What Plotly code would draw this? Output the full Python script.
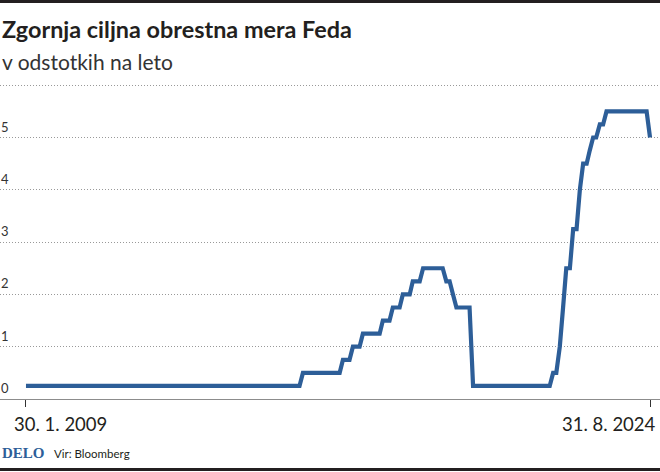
import plotly.graph_objects as go

# month-end values of the Fed upper target rate (points where the line bends)
dates = [
    "2009-01-30", "2015-11-30", "2015-12-31", "2016-11-30", "2016-12-30",
    "2017-02-28", "2017-03-31", "2017-05-31", "2017-06-30", "2017-11-30",
    "2017-12-29", "2018-02-28", "2018-03-30", "2018-05-31", "2018-06-29",
    "2018-08-31", "2018-09-28", "2018-11-30", "2018-12-31", "2019-06-28",
    "2019-07-31", "2019-08-30", "2019-09-30", "2019-10-31", "2020-02-28",
    "2020-03-31", "2022-02-28", "2022-03-31", "2022-04-29", "2022-05-31",
    "2022-06-30", "2022-07-29", "2022-08-31", "2022-09-30", "2022-10-31",
    "2022-11-30", "2022-12-30", "2023-01-31", "2023-02-28", "2023-03-31",
    "2023-04-28", "2023-05-31", "2023-06-30", "2023-07-31", "2024-07-31",
    "2024-08-31",
]
rate = [
    0.25, 0.25, 0.50, 0.50, 0.75,
    0.75, 1.00, 1.00, 1.25, 1.25,
    1.50, 1.50, 1.75, 1.75, 2.00,
    2.00, 2.25, 2.25, 2.50, 2.50,
    2.25, 2.25, 2.00, 1.75, 1.75,
    0.25, 0.25, 0.50, 0.50, 1.00,
    1.75, 2.50, 2.50, 3.25, 3.25,
    4.00, 4.50, 4.50, 4.75, 5.00,
    5.00, 5.25, 5.25, 5.50, 5.50,
    5.00,
]

y_ticks = [0, 1, 2, 3, 4, 5, 6]
y_labels = ["0", "1", "2", "3", "4", "5", ""]
x_ticks = ["2009-01-30", "2024-08-31"]
x_labels = ["30. 1. 2009", "31. 8. 2024"]

BLUE = "#2d5e98"
DARK = "#231f20"
FONT = "Lato"

fig = go.Figure()
fig.add_trace(go.Scatter(
    x=dates, y=rate, mode="lines",
    line=dict(color=BLUE, width=4.2),
    hoverinfo="skip",
))

# pixel helpers: plot area runs from y=80 to y=399 of the 472px page
def py(pix):
    return (399 - pix) / 319

fig.update_layout(
    width=660, height=472,
    margin=dict(l=0, r=0, t=80, b=73),
    paper_bgcolor="white", plot_bgcolor="white",
    showlegend=False,
    font=dict(family=FONT, color=DARK),
    xaxis=dict(
        type="date", range=["2008-06-07", "2024-11-30"],
        tickvals=x_ticks, showticklabels=False,
        ticks="outside", ticklen=7, tickcolor="#333333", tickwidth=1,
        showgrid=False, zeroline=False,
        showline=True, linecolor="#8c8c8c", linewidth=1,
    ),
    yaxis=dict(
        range=[0, 6.1], tickvals=y_ticks, showticklabels=False,
        showgrid=True, gridcolor="#999999", gridwidth=1, griddash="1px,2px",
        zeroline=False, showline=False, ticks="",
    ),
)

# y tick labels sit just above their gridlines, flush left
for v, lab in zip(y_ticks, y_labels):
    if lab:
        fig.add_annotation(xref="paper", yref="y", x=-0.002, y=v, text=lab,
                           xanchor="left", yanchor="middle", yshift=11,
                           showarrow=False,
                           font=dict(size=13, color="#333333", family=FONT))

ann = [
    dict(text="<b>Zgornja ciljna obrestna mera Feda</b>", x=0.0, y=py(29),
         font=dict(size=23.4, color=DARK, family=FONT)),
    dict(text="v odstotkih na leto", x=0.0, y=py(62),
         font=dict(size=21, color="#333333", family=FONT)),
    dict(text=x_labels[0], x=12 / 660, y=py(424),
         font=dict(size=18.5, color=DARK, family=FONT)),
    dict(text=x_labels[1], x=658 / 660, y=py(424), xanchor="right",
         font=dict(size=18.5, color=DARK, family=FONT)),
    dict(text="<b>DELO</b>", x=0.0, y=py(453),
         font=dict(size=15, color=BLUE, family="Liberation Serif")),
    dict(text="Vir: Bloomberg", x=52 / 660, y=py(453),
         font=dict(size=11.5, color=DARK, family=FONT)),
]
for a in ann:
    a.setdefault("xanchor", "left")
    fig.add_annotation(xref="paper", yref="paper", yanchor="middle",
                       showarrow=False, **a)

# top and bottom rules
fig.add_shape(type="rect", xref="paper", yref="paper", x0=0, x1=1,
              y0=py(3), y1=py(0), fillcolor=DARK, line_width=0)
fig.add_shape(type="rect", xref="paper", yref="paper", x0=0, x1=1,
              y0=py(471), y1=py(468), fillcolor=DARK, line_width=0)

fig.write_html("out.html", config={"displayModeBar": False},
               post_script="document.body.style.margin='0';")
